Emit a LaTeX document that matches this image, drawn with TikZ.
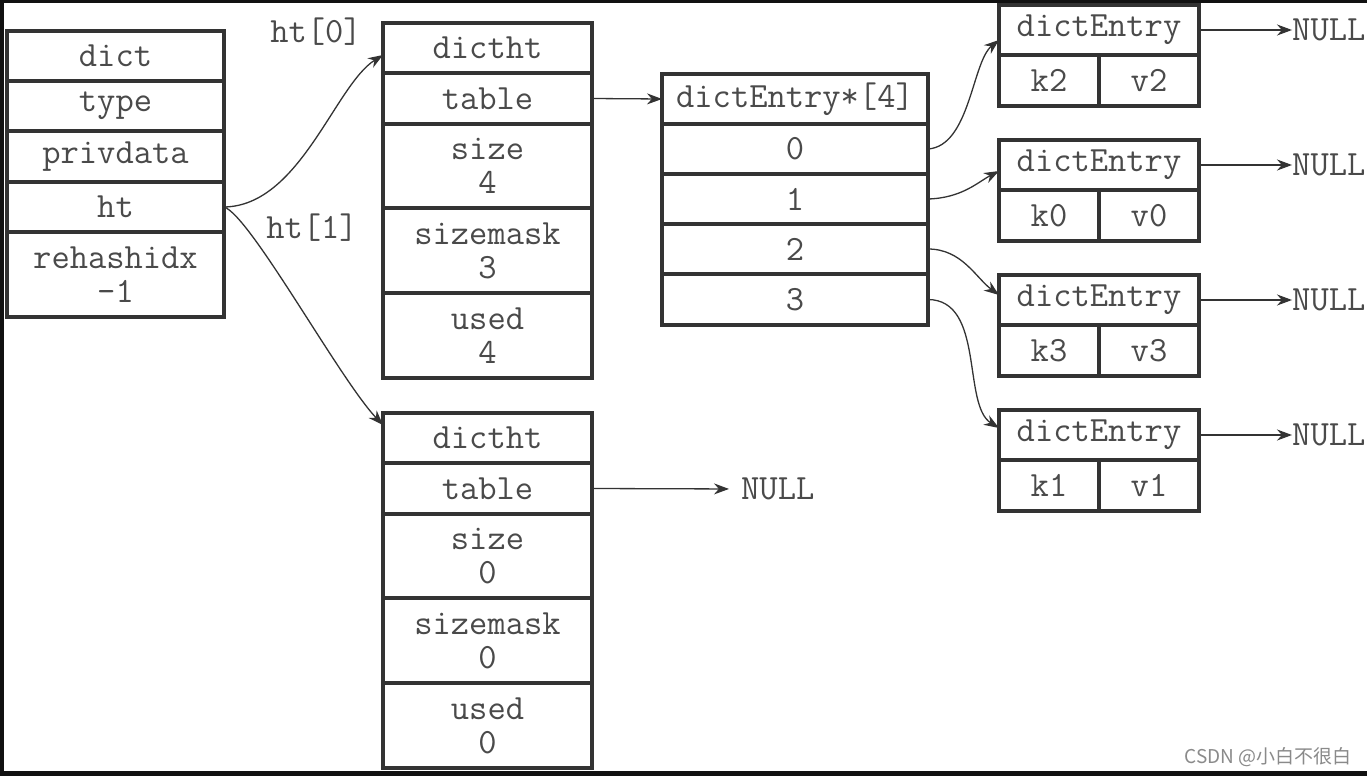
\documentclass[tikz,border=0pt]{standalone}
\usepackage{fontspec}
\newfontfamily\cjk{Noto Sans CJK SC}
\usetikzlibrary{arrows.meta}
\definecolor{boxc}{HTML}{333333}
\definecolor{txt}{HTML}{4A4A4A}
\definecolor{frame}{HTML}{111111}
\definecolor{wm}{HTML}{8A8A8A}
\begin{document}
\begin{tikzpicture}[x=1pt,y=-1pt,
  cell/.style={draw=boxc, line width=3.5pt, rectangle, inner sep=0pt, outer sep=0pt,
    text=txt, font=\ttfamily\fontsize{35.5}{34}\selectfont, align=center},
  link/.style={draw=boxc, line width=1.3pt, -{Stealth[length=15pt,width=11pt]}},
  lbl/.style={text=txt, font=\ttfamily\fontsize{35.5}{34}\selectfont, inner sep=0pt}]
% frame
\fill[frame] (0,0) rectangle (1367,776);
\fill[white] (4,3) rectangle (1367,771);
\useasboundingbox (0,0) rectangle (1367,776);

% dict
\node[cell, minimum width=217, minimum height=50] (d0) at (115.5,56) {dict};
\node[cell, minimum width=217, minimum height=50] (d1) at (115.5,106) {type};
\node[cell, minimum width=217, minimum height=51] (d2) at (115.5,156.5) {privdata};
\node[cell, minimum width=217, minimum height=50] (d3) at (115.5,207) {ht};
\node[cell, minimum width=217, minimum height=85] (d4) at (115.5,274.5) {rehashidx\\-1};

% dictht 0
\node[cell, minimum width=209, minimum height=50] (a0) at (487.5,48) {dictht};
\node[cell, minimum width=209, minimum height=51] (a1) at (487.5,98.5) {table};
\node[cell, minimum width=209, minimum height=84] (a2) at (487.5,166) {size\\4};
\node[cell, minimum width=209, minimum height=85] (a3) at (487.5,250.5) {sizemask\\3};
\node[cell, minimum width=209, minimum height=85] (a4) at (487.5,335.5) {used\\4};

% dictht 1
\node[cell, minimum width=209, minimum height=50] (b0) at (487.5,438) {dictht};
\node[cell, minimum width=209, minimum height=51] (b1) at (487.5,488.5) {table};
\node[cell, minimum width=209, minimum height=84] (b2) at (487.5,556) {size\\0};
\node[cell, minimum width=209, minimum height=85] (b3) at (487.5,640.5) {sizemask\\0};
\node[cell, minimum width=209, minimum height=85] (b4) at (487.5,725.5) {used\\0};

% array
\node[cell, minimum width=266, minimum height=50] (t0) at (795,99) {dictEntry*[4]};
\node[cell, minimum width=266, minimum height=50] (t1) at (795,149) {0};
\node[cell, minimum width=266, minimum height=50] (t2) at (795,199) {1};
\node[cell, minimum width=266, minimum height=50] (t3) at (795,249) {2};
\node[cell, minimum width=266, minimum height=51] (t4) at (795,299.5) {3};

% entries
\foreach \i/\top/\k/\v in {1/5/k2/v2, 2/140/k0/v0, 3/275/k3/v3, 4/410/k1/v1}{
  \node[cell, minimum width=200, minimum height=50] (e\i) at (1099,\top+25) {dictEntry};
  \node[cell, minimum width=100, minimum height=51] (k\i) at (1049,\top+75.5) {\k};
  \node[cell, minimum width=100, minimum height=51] (v\i) at (1149,\top+75.5) {\v};
  \node[lbl, anchor=west] (n\i) at (1292,\top+25) {NULL};
  \draw[link] (e\i.east) -- (n\i.west);
}

% labels
\node[lbl] (l0) at (316,32) {ht[0]};
\node[lbl] (l1) at (312,228) {ht[1]};
\node[lbl, anchor=west] (nb) at (741,489) {NULL};

% connectors
\coordinate (hs) at (d3.east);
\coordinate (ha) at (383,55);
\coordinate (hb) at (383,425);
\draw[link] (hs) .. controls (300,206) and (335,85) .. (ha);
\draw[link] (hs) .. controls (250,215) and (340,380) .. (hb);
\draw[link] (a1.east) -- (t0.west);
\draw[link, shorten >=12pt] (b1.east) -- (nb.west);

\coordinate (x1) at (999,40);
\coordinate (x2) at (999,171);
\coordinate (x3) at (999,295);
\coordinate (x4) at (999,428);
\draw[link] (t1.east) .. controls (970,146) and (972,62) .. (x1);
\draw[link] (t2.east) .. controls (962,198) and (978,182) .. (x2);
\draw[link] (t3.east) .. controls (962,249) and (976,278) .. (x3);
\draw[link] (t4.east) .. controls (985,300) and (962,405) .. (x4);

% watermark
\node[text=wm, font=\cjk\fontsize{19}{22}\selectfont, anchor=east, inner sep=0pt] (wmk) at (1352,757) {CSDN @小白不很白};
\end{tikzpicture}
\end{document}
